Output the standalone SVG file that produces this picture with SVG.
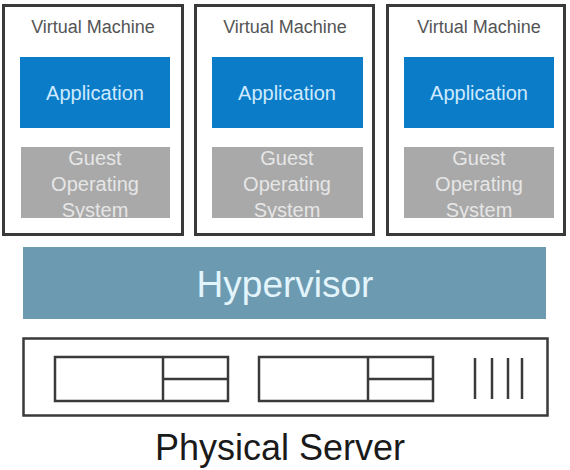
<svg xmlns="http://www.w3.org/2000/svg" width="570" height="470" viewBox="0 0 570 470">
<style>
.vm{fill:#fff;stroke:#3a3a3a;stroke-width:3}
.vmt{font-family:"Liberation Sans",Arial,sans-serif;font-size:18px;fill:#555;text-anchor:middle}
.app{fill:#0a7cc8}
.appt{font-family:"Liberation Sans",Arial,sans-serif;font-size:20px;fill:#cfeaff;text-anchor:middle}
.os{fill:#a9a9a9}
.ost{font-family:"Liberation Sans",Arial,sans-serif;font-size:20px;fill:#e6e6e6;text-anchor:middle}
.hw{fill:#fff;stroke:#3a3a3a;stroke-width:2.5}
.ln{stroke:#3a3a3a;stroke-width:2.5;fill:none}
</style>
<defs>
<clipPath id="c1"><rect x="21" y="147" width="149" height="71"/></clipPath>
<clipPath id="c2"><rect x="212" y="147" width="151" height="71"/></clipPath>
<clipPath id="c3"><rect x="404" y="147" width="150" height="71"/></clipPath>
</defs>
<g id="vm1">
<rect class="vm" x="3.5" y="5.5" width="179" height="229"/>
<text class="vmt" x="93" y="33">Virtual Machine</text>
<rect class="app" x="20" y="57" width="150" height="71"/>
<text class="appt" x="95" y="100">Application</text>
<rect class="os" x="21" y="147" width="149" height="71"/>
<g clip-path="url(#c1)"><text class="ost" x="95" y="165">Guest</text><text class="ost" x="95" y="191">Operating</text><text class="ost" x="95" y="217">System</text></g>
</g>
<g id="vm2">
<rect class="vm" x="195.5" y="5.5" width="178" height="229"/>
<text class="vmt" x="285" y="33">Virtual Machine</text>
<rect class="app" x="212" y="57" width="151" height="71"/>
<text class="appt" x="287" y="100">Application</text>
<rect class="os" x="212" y="147" width="151" height="71"/>
<g clip-path="url(#c2)"><text class="ost" x="287" y="165">Guest</text><text class="ost" x="287" y="191">Operating</text><text class="ost" x="287" y="217">System</text></g>
</g>
<g id="vm3">
<rect class="vm" x="387.5" y="5.5" width="177" height="229"/>
<text class="vmt" x="479" y="33">Virtual Machine</text>
<rect class="app" x="404" y="57" width="150" height="71"/>
<text class="appt" x="479" y="100">Application</text>
<rect class="os" x="404" y="147" width="150" height="71"/>
<g clip-path="url(#c3)"><text class="ost" x="479" y="165">Guest</text><text class="ost" x="479" y="191">Operating</text><text class="ost" x="479" y="217">System</text></g>
</g>
<g id="hypervisor">
<rect x="23" y="247" width="523" height="72" fill="#6c9ab1"/>
<text x="285" y="297" font-family="'Liberation Sans',Arial,sans-serif" font-size="37" fill="#e2f4fc" text-anchor="middle">Hypervisor</text>
</g>
<g id="server">
<rect class="hw" x="23.5" y="338.5" width="524" height="77"/>
<rect class="hw" x="55" y="357" width="173" height="44"/>
<line class="ln" x1="163" y1="357" x2="163" y2="401"/>
<line class="ln" x1="163" y1="379" x2="228" y2="379"/>
<rect class="hw" x="259" y="357" width="174" height="44"/>
<line class="ln" x1="368" y1="357" x2="368" y2="401"/>
<line class="ln" x1="368" y1="379" x2="433" y2="379"/>
<line class="ln" x1="475" y1="358" x2="475" y2="399"/>
<line class="ln" x1="492" y1="358" x2="492" y2="399"/>
<line class="ln" x1="508" y1="358" x2="508" y2="399"/>
<line class="ln" x1="522" y1="358" x2="522" y2="399"/>
<text x="280" y="460" font-family="'Liberation Sans',Arial,sans-serif" font-size="36" fill="#1a1a1a" text-anchor="middle">Physical Server</text>
</g>
<g id="connectors"/>
</svg>
